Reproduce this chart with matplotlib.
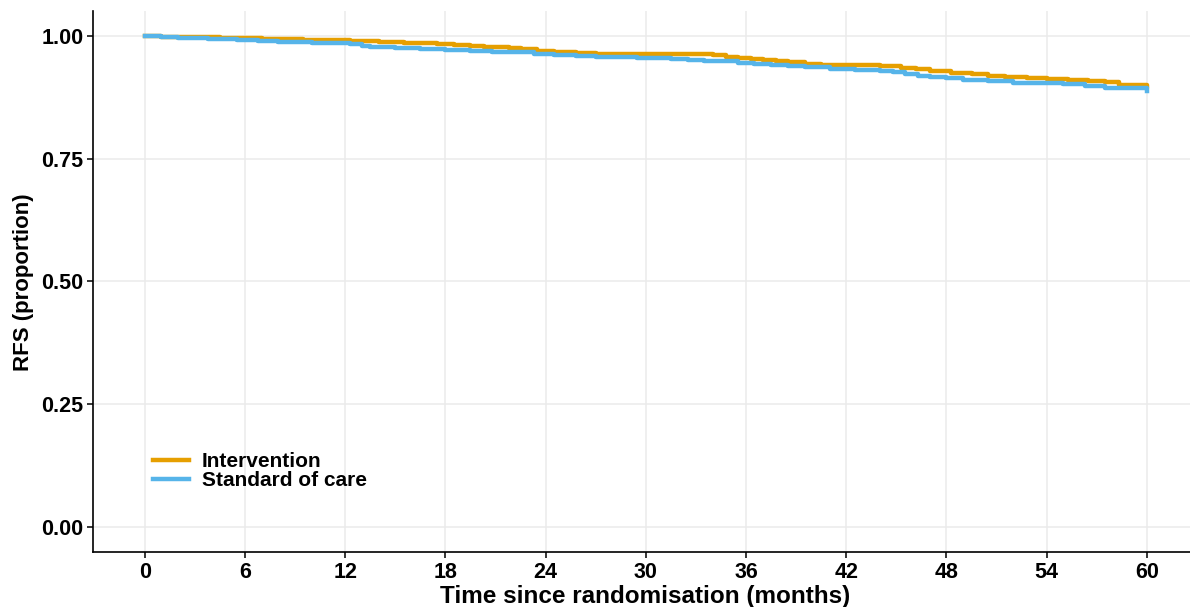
import numpy as np
import matplotlib
matplotlib.use("Agg")
import matplotlib.pyplot as plt

plt.rcParams['font.family'] = ['Liberation Sans', 'DejaVu Sans']

# curvas de sobrevida, degraus
t_int = [0, 1, 2, 4.5, 7, 9.5, 12.3, 14, 15.5, 17.5, 18.5, 19.5, 20.3, 21, 21.8, 22.5,
         23.5, 24.5, 25.8, 27, 30.5, 34, 34.8, 35.5, 36.3, 37, 37.8, 38.5, 39.5, 40.5,
         44, 45.3, 46.2, 47, 48.3, 49.5, 50.5, 51.5, 52.8, 54, 55.3, 56.5, 57.5, 58.3, 60]
s_int = [1.0, 0.998, 0.997, 0.996, 0.994, 0.992, 0.989, 0.987, 0.986, 0.984, 0.982,
         0.980, 0.978, 0.977, 0.975, 0.973, 0.970, 0.967, 0.965, 0.964, 0.963, 0.961,
         0.958, 0.956, 0.953, 0.951, 0.948, 0.946, 0.943, 0.940, 0.938, 0.935, 0.932,
         0.929, 0.925, 0.922, 0.919, 0.916, 0.914, 0.912, 0.910, 0.908, 0.906, 0.901, 0.899]

t_soc = [0, 1, 2, 3.8, 5.5, 6.8, 8, 10, 12.3, 13, 13.5, 15, 16.5, 18, 19.5, 20.8, 22,
         23.3, 24.5, 25.8, 27, 29.5, 31.5, 32.5, 33.5, 34.5, 35.5, 36.5, 37.5, 38.5,
         39.5, 41, 42.5, 44, 44.8, 45.5, 46.3, 47, 48, 49, 50.5, 52, 53.5, 55, 56.3,
         57.5, 59.8, 60]
s_soc = [1.0, 0.998, 0.995, 0.993, 0.991, 0.990, 0.988, 0.986, 0.983, 0.980, 0.977,
         0.975, 0.973, 0.972, 0.970, 0.968, 0.967, 0.964, 0.962, 0.960, 0.958, 0.956,
         0.953, 0.951, 0.950, 0.948, 0.945, 0.943, 0.941, 0.938, 0.936, 0.933, 0.931,
         0.929, 0.926, 0.922, 0.919, 0.917, 0.914, 0.911, 0.908, 0.905, 0.904, 0.902,
         0.898, 0.893, 0.893, 0.888]

xticks = [0, 6, 12, 18, 24, 30, 36, 42, 48, 54, 60]
yticks = [0.0, 0.25, 0.5, 0.75, 1.0]
ylabels = ["0.00", "0.25", "0.50", "0.75", "1.00"]

cor_int = "#E69F00"
cor_soc = "#56B4E9"

W, H = 1190, 607
fig = plt.figure(figsize=(W / 100, H / 100), dpi=100)
ax = fig.add_axes([93 / W, (H - 552) / H, (1197 - 93) / W, (552 - 11.4) / H])

ax.step(t_int, s_int, where="post", color=cor_int, lw=3.2, label="Intervention", zorder=3)
ax.step(t_soc, s_soc, where="post", color=cor_soc, lw=3.2, label="Standard of care", zorder=3)

ax.set_xlim(-3.1, 63)
ax.set_ylim(-0.051, 1.05)
ax.set_xticks(xticks)
ax.set_yticks(yticks)
ax.set_yticklabels(ylabels)
ax.grid(True, color="#EBEBEB", lw=1.1)
ax.set_axisbelow(True)

for lado in ["top", "right"]:
    ax.spines[lado].set_visible(False)
ax.spines["left"].set_linewidth(1.2)
ax.spines["bottom"].set_linewidth(1.2)

ax.tick_params(axis="both", length=4, width=1.1, labelsize=15.5, pad=3)
for lab in ax.get_xticklabels() + ax.get_yticklabels():
    lab.set_fontweight("bold")

ax.set_xlabel("Time since randomisation (months)", fontsize=17.5, fontweight="bold", labelpad=2)
ax.set_ylabel("RFS (proportion)", fontsize=16, fontweight="bold", labelpad=5)

leg = ax.legend(loc="center left", bbox_to_anchor=(0.0543, 0.149), frameon=False,
                borderpad=0, borderaxespad=0, handlelength=1.75, handletextpad=0.6,
                labelspacing=0.0, prop={"size": 15, "weight": "bold"})

plt.savefig("out.png", dpi=100)
